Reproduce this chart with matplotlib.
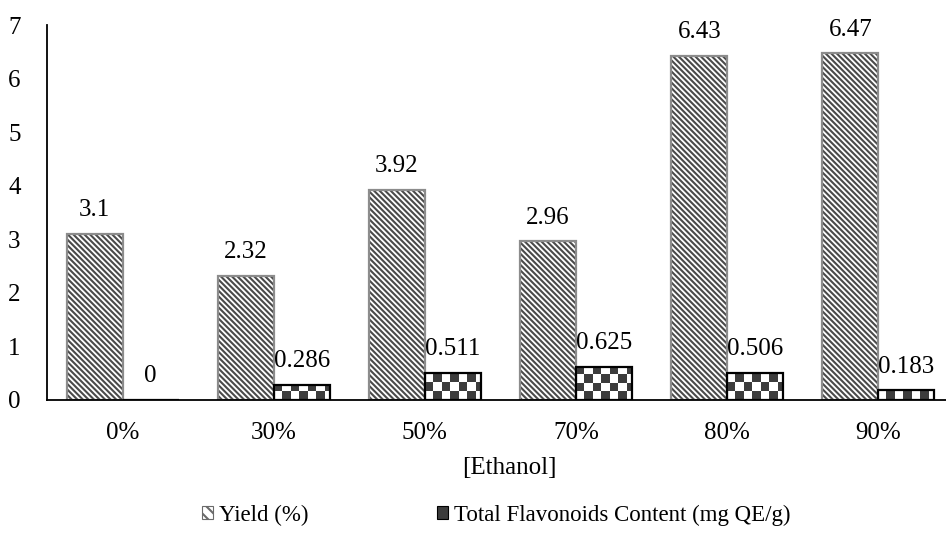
import numpy as np
import matplotlib
matplotlib.use("Agg")
import matplotlib.pyplot as plt
from matplotlib.patches import Patch
from matplotlib.colors import ListedColormap

plt.rcParams['font.family'] = ['Liberation Serif', 'DejaVu Serif']
plt.rcParams['font.size'] = 18
plt.rcParams['hatch.linewidth'] = 1.5

# ---------------- data ----------------
categories = ['0%', '30%', '50%', '70%', '80%', '90%']
yield_pct = [3.1, 2.32, 3.92, 2.96, 6.43, 6.47]
flavonoids = [0, 0.286, 0.511, 0.625, 0.506, 0.183]
yield_labels = ['3.1', '2.32', '3.92', '2.96', '6.43', '6.47']
flav_labels = ['0', '0.286', '0.511', '0.625', '0.506', '0.183']

fig = plt.figure(figsize=(9.46, 5.45), dpi=100)
ax = fig.add_axes([47 / 946, 1 - 400 / 545, 907 / 946, 375 / 545])

x = np.arange(len(categories))
w = 0.37
hatch = '\\' * 6

# yield bars: hatch layer then gray outline
ax.bar(x - w / 2, yield_pct, w, color='white', edgecolor='#4a4a4a',
       hatch=hatch, linewidth=0, zorder=2)
ax.bar(x - w / 2, yield_pct, w, fill=False, edgecolor='#8c8c8c',
       linewidth=1.6, zorder=3)

# flavonoid bars: checkerboard fill clipped to each bar, black outline on top
flav_bars = ax.bar(x + w / 2, flavonoids, w, fill=False, edgecolor='black',
                   linewidth=1.6, zorder=3)
cell_x, cell_y = 0.056, 0.16
checker_cmap = ListedColormap(['white', '#3c3c3c'])
for b in flav_bars:
    h = b.get_height()
    if h <= 0:
        continue
    x0 = b.get_x()
    nx = int(np.ceil(w / cell_x)) + 1
    ny = int(np.ceil(h / cell_y)) + 1
    ii, jj = np.indices((ny, nx))
    board = ((ii + jj) % 2).astype(float)
    im = ax.imshow(board, cmap=checker_cmap, vmin=0, vmax=1,
                   extent=[x0, x0 + nx * cell_x, 0, ny * cell_y], origin='lower',
                   aspect='auto', interpolation='nearest', zorder=2.5)
    im.set_clip_path(b)

# data labels
for xi, v, s in zip(x, yield_pct, yield_labels):
    ax.annotate(s, (xi - w / 2, v), xytext=(0, 9), textcoords='offset points',
                ha='center', va='bottom')
for xi, v, s in zip(x, flavonoids, flav_labels):
    ax.annotate(s, (xi + w / 2, v), xytext=(0, 9), textcoords='offset points',
                ha='center', va='bottom')

ax.set_xlim(-0.5, 5.5)
ax.set_ylim(0, 7)
ax.set_xticks(x)
ax.set_xticklabels(categories)
ax.set_yticks(range(8))
ax.tick_params(axis='both', length=0)
ax.tick_params(axis='x', pad=16)
ax.tick_params(axis='y', pad=19)
for side in ['top', 'right']:
    ax.spines[side].set_visible(False)
for side in ['left', 'bottom']:
    ax.spines[side].set_linewidth(1.3)
    ax.spines[side].set_color('black')
    ax.spines[side].set_zorder(4)

fig.text(509 / 946, 1 - 468 / 545, '[Ethanol]', ha='center', va='center')

handles = [Patch(facecolor='white', edgecolor='#6a6a6a', hatch='\\\\\\', linewidth=0.8),
           Patch(facecolor='#3c3c3c', edgecolor='black', linewidth=0.8)]
fig.legend(handles, ['Yield (%)', 'Total Flavonoids Content (mg QE/g)'],
           loc='center', bbox_to_anchor=(496 / 946, 1 - 515 / 545), ncol=2,
           frameon=False, fontsize=16.5, handlelength=0.5, handleheight=0.5,
           handletextpad=0.25, columnspacing=5.6)

fig.savefig('out.png', dpi=100)
